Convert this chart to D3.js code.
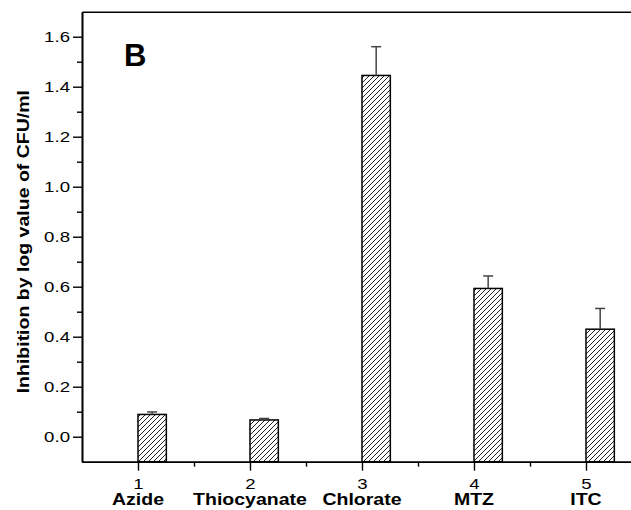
<!DOCTYPE html>
<html><head><meta charset="utf-8">
<script src="https://cdn.jsdelivr.net/npm/d3@7"></script>
<style>body{margin:0;background:#fff}svg{display:block}</style>
</head><body>
<svg id="c" width="631" height="510"></svg>
<script>
const categories = ["Azide", "Thiocyanate", "Chlorate", "MTZ", "ITC"];
const positions = [1, 2, 3, 4, 5];
const values = [0.089, 0.067, 1.445, 0.593, 0.430];
const errors = [0.010, 0.006, 0.115, 0.050, 0.083];
const yMajorTicks = [0.0, 0.2, 0.4, 0.6, 0.8, 1.0, 1.2, 1.4, 1.6];
const yMinorTicks = [0.1, 0.3, 0.5, 0.7, 0.9, 1.1, 1.3, 1.5];
const xMinorTicks = [1.5, 2.5, 3.5, 4.5];
const yLabel = "Inhibition by log value of CFU/ml";
const panelLabel = "B";
const barWidthUnits = 0.253;

const FONT = "'Liberation Sans', Arial, Helvetica, sans-serif";
const svg = d3.select("#c");
const x = d3.scaleLinear().domain([0.5, 5.5]).range([82, 642]);
const y = d3.scaleLinear().domain([-0.1, 1.7]).range([461.7, 11.7]);

// horizontally stretch text around its anchor
function stretch(sel, sx, pre) {
  sel.each(function() {
    const t = d3.select(this);
    const xv = +(t.attr("x") || 0);
    t.attr("x", xv / sx).attr("transform", (pre || "") + ` scale(${sx},1)`);
  });
}

const defs = svg.append("defs");
defs.append("pattern").attr("id", "hatch")
  .attr("patternUnits", "userSpaceOnUse").attr("width", 5).attr("height", 5)
  .append("path").attr("d", "M-1,1 L1,-1 M0,5 L5,0 M4,6 L6,4")
  .attr("stroke", "#222").attr("stroke-width", 1);

const data = categories.map((c, i) => ({c, p: positions[i], v: values[i], e: errors[i]}));

// bars
svg.append("g").selectAll("rect").data(data).join("rect")
  .attr("x", d => x(d.p))
  .attr("y", d => y(d.v))
  .attr("width", d => x(d.p + barWidthUnits) - x(d.p))
  .attr("height", d => y(-0.1) - y(d.v))
  .attr("fill", "url(#hatch)").attr("stroke", "#000").attr("stroke-width", 1.5);

// error bars (upper only)
const eg = svg.append("g").attr("stroke", "#444").attr("stroke-width", 1.5);
data.forEach(d => {
  const cx = x(d.p + barWidthUnits / 2);
  eg.append("line").attr("x1", cx).attr("x2", cx).attr("y1", y(d.v)).attr("y2", y(d.v + d.e));
  eg.append("line").attr("x1", cx - 5).attr("x2", cx + 5).attr("y1", y(d.v + d.e)).attr("y2", y(d.v + d.e));
});

// left axis
svg.append("g").attr("transform", `translate(${x(0.5)},0)`)
  .call(d3.axisLeft(y).tickValues(yMajorTicks).tickFormat(d3.format(".1f")).tickSize(9).tickSizeOuter(0).tickPadding(3));
svg.append("g").attr("transform", `translate(${x(0.5)},0)`)
  .call(d3.axisLeft(y).tickValues(yMinorTicks).tickFormat("").tickSize(5).tickSizeOuter(0));

// bottom axis
svg.append("g").attr("transform", `translate(0,${y(-0.1)})`)
  .call(d3.axisBottom(x).tickValues(positions).tickFormat(d3.format("d")).tickSize(9).tickSizeOuter(0).tickPadding(8));
svg.append("g").attr("transform", `translate(0,${y(-0.1)})`)
  .call(d3.axisBottom(x).tickValues(xMinorTicks).tickFormat("").tickSize(5).tickSizeOuter(0));

// top frame line
svg.append("g").attr("transform", `translate(0,${y(1.7)})`)
  .call(d3.axisTop(x).tickValues([]).tickSizeOuter(0));

svg.selectAll(".domain").attr("stroke", "#000").attr("stroke-width", 1.6);
svg.selectAll(".tick line").attr("stroke", "#000").attr("stroke-width", 1.4);
svg.selectAll(".tick text").attr("font-family", FONT).attr("font-size", 14).attr("fill", "#000")
  .call(stretch, 1.33);

// category labels
svg.append("g").selectAll("text").data(data).join("text")
  .attr("x", d => x(d.p)).attr("y", 505.5)
  .attr("text-anchor", "middle")
  .attr("font-family", FONT).attr("font-weight", "bold").attr("font-size", 16)
  .text(d => d.c)
  .call(stretch, 1.22);

// y label
svg.append("text")
  .attr("text-anchor", "middle")
  .attr("font-family", FONT).attr("font-weight", "bold").attr("font-size", 16)
  .text(yLabel)
  .call(stretch, 1.22, `translate(29,${(y(-0.1) + y(1.7)) / 2 + 5}) rotate(-90)`);

// panel label
svg.append("text").attr("x", 124).attr("y", 66)
  .attr("font-family", FONT).attr("font-weight", "bold").attr("font-size", 31)
  .text(panelLabel);
</script>
</body></html>
